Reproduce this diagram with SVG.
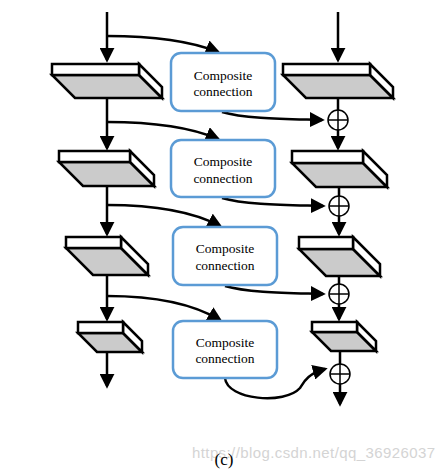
<svg xmlns="http://www.w3.org/2000/svg" width="445" height="471" viewBox="0 0 445 471">
<defs>
<marker id="ah" markerUnits="userSpaceOnUse" markerWidth="15" markerHeight="15" viewBox="0 0 16 16" refX="13" refY="8" orient="auto">
<path d="M0,0 L16,8 L0,16 Z" fill="#000"/>
</marker>
<style>
.ln{fill:none;stroke:#000;stroke-width:2.5}
.top{fill:#fff;stroke:#000;stroke-width:2.5;stroke-linejoin:miter}
.bot{fill:#cbcbcb;stroke:#000;stroke-width:2.5}
.cc{fill:#fff;stroke:#5b9bd5;stroke-width:2.5}
.t{font-family:"Liberation Serif","Times New Roman",serif;font-size:13.5px;fill:#000;text-anchor:middle}
.sum circle{fill:#fff;stroke:#000;stroke-width:1.5}
.sum path{stroke:#000;stroke-width:1.5;fill:none}
</style>
</defs>
<rect width="445" height="471" fill="#fff"/>

<g id="connectors">
<path class="ln" d="M107,12 L107,60" marker-end="url(#ah)"/>
<path class="ln" d="M107,98 L107,148" marker-end="url(#ah)"/>
<path class="ln" d="M107,186 L107,234" marker-end="url(#ah)"/>
<path class="ln" d="M107,276 L107,319" marker-end="url(#ah)"/>
<path class="ln" d="M107,352 L107,386" marker-end="url(#ah)"/>
<path class="ln" d="M107,36 C150,36 188,40 218,52" marker-end="url(#ah)"/>
<path class="ln" d="M107,122 C150,122 188,126 218,139" marker-end="url(#ah)"/>
<path class="ln" d="M107,205 C150,205 190,210 220,226" marker-end="url(#ah)"/>
<path class="ln" d="M107,296 C150,296 190,302 220,320" marker-end="url(#ah)"/>
<path class="ln" d="M338,12 L338,60" marker-end="url(#ah)"/>
<path class="ln" d="M338,98 L338,148" marker-end="url(#ah)"/>
<path class="ln" d="M339,188 L339,234" marker-end="url(#ah)"/>
<path class="ln" d="M339,276 L339,319" marker-end="url(#ah)"/>
<path class="ln" d="M340,351 L340,404" marker-end="url(#ah)"/>
<path class="ln" d="M222,112 C245,119 290,119 322,120" marker-end="url(#ah)"/>
<path class="ln" d="M222,198 C245,205 290,205 323,206" marker-end="url(#ah)"/>
<path class="ln" d="M225,286 C248,293 292,293 323,294" marker-end="url(#ah)"/>
<path class="ln" d="M225,378 C227,400 285,405 300,388 C304,382 307,374 325,369" marker-end="url(#ah)"/>
</g>

<g id="block-L1"><polygon class="bot" points="52,75 139,75 162,98 75,98"/><polygon class="top" points="139,64 162,87 162,98 139,75"/><rect class="top" x="52" y="64" width="87" height="11"/></g>
<g id="block-L2"><polygon class="bot" points="59,162 130,162 154,186 83,186"/><polygon class="top" points="130,151 154,175 154,186 130,162"/><rect class="top" x="59" y="151" width="71" height="11"/></g>
<g id="block-L3"><polygon class="bot" points="66,248 121,248 148,275 93,275"/><polygon class="top" points="121,237 148,264 148,275 121,248"/><rect class="top" x="66" y="237" width="55" height="11"/></g>
<g id="block-L4"><polygon class="bot" points="78,333 123,333 142,352 97,352"/><polygon class="top" points="123,322 142,341 142,352 123,333"/><rect class="top" x="78" y="322" width="45" height="11"/></g>

<g id="block-R1"><polygon class="bot" points="283,75 370,75 393,98 306,98"/><polygon class="top" points="370,64 393,87 393,98 370,75"/><rect class="top" x="283" y="64" width="87" height="11"/></g>
<g id="block-R2"><polygon class="bot" points="292,163 363,163 387,187 316,187"/><polygon class="top" points="363,151 387,175 387,187 363,163"/><rect class="top" x="292" y="151" width="71" height="12"/></g>
<g id="block-R3"><polygon class="bot" points="299,249 353,249 380,276 326,276"/><polygon class="top" points="353,237 380,264 380,276 353,249"/><rect class="top" x="299" y="237" width="54" height="12"/></g>
<g id="block-R4"><polygon class="bot" points="312,332 357,332 376,351 331,351"/><polygon class="top" points="357,322 376,341 376,351 357,332"/><rect class="top" x="312" y="322" width="45" height="10"/></g>

<g id="sum1" class="sum"><circle cx="338" cy="120" r="10"/><path d="M328,120 H348 M338,110 V130"/></g>
<g id="sum2" class="sum"><circle cx="339" cy="206" r="10"/><path d="M329,206 H349 M339,196 V216"/></g>
<g id="sum3" class="sum"><circle cx="339" cy="294" r="10"/><path d="M329,294 H349 M339,284 V304"/></g>
<g id="sum4" class="sum"><circle cx="340" cy="374" r="10"/><path d="M330,374 H350 M340,364 V384"/></g>

<g id="cc1"><rect class="cc" x="171" y="53" width="104" height="58" rx="10"/><text class="t" x="223" y="80">Composite</text><text class="t" x="223" y="96">connection</text></g>
<g id="cc2"><rect class="cc" x="171" y="140" width="104" height="57" rx="10"/><text class="t" x="223" y="166">Composite</text><text class="t" x="223" y="183">connection</text></g>
<g id="cc3"><rect class="cc" x="173" y="227" width="104" height="58" rx="10"/><text class="t" x="225" y="253">Composite</text><text class="t" x="225" y="270">connection</text></g>
<g id="cc4"><rect class="cc" x="173" y="321" width="104" height="57" rx="10"/><text class="t" x="225" y="347">Composite</text><text class="t" x="225" y="363">connection</text></g>

<text x="192" y="458" font-family="Liberation Sans, Arial, sans-serif" font-size="15" fill="#d4d4d4" textLength="243">https://blog.csdn.net/qq_36926037</text>
<text x="224" y="465" font-family="Liberation Serif, Times New Roman, serif" font-size="17" fill="#000" text-anchor="middle">(c)</text>
</svg>
